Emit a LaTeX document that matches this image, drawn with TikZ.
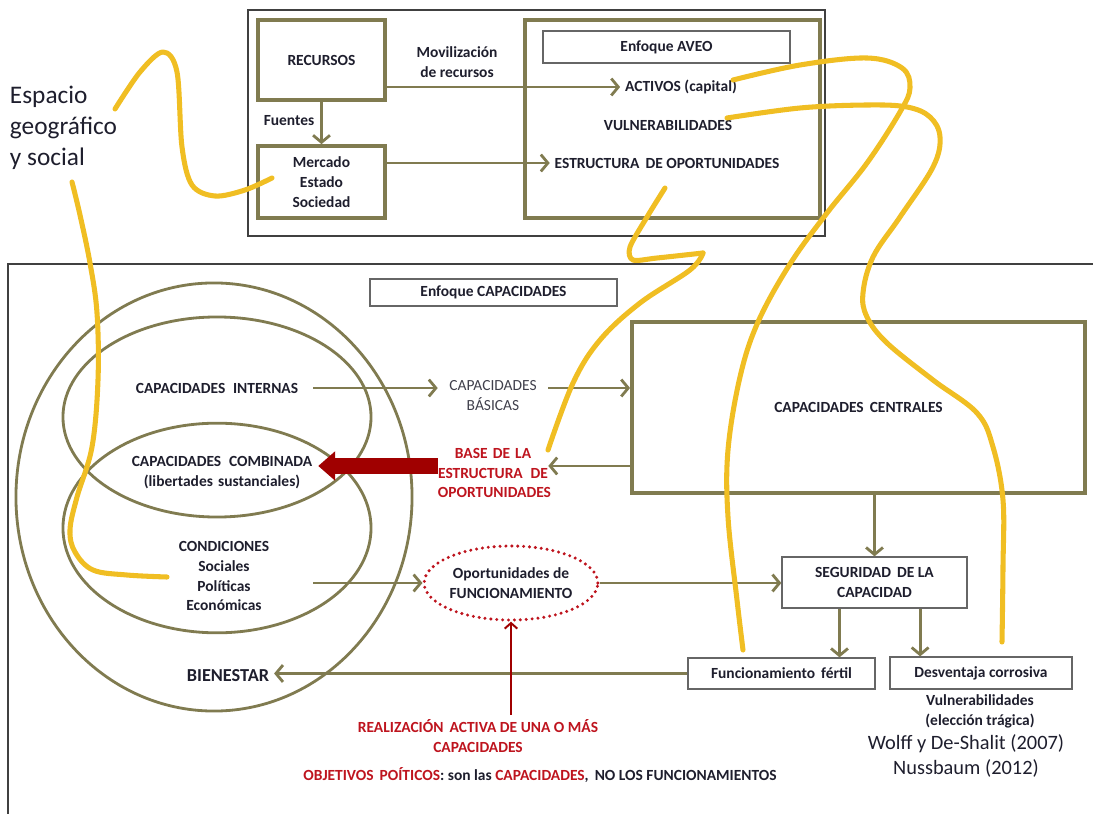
\documentclass[tikz,border=0pt]{standalone}
\usepackage{fontspec}
\setmainfont{Carlito}
\usetikzlibrary{arrows.meta,shapes.geometric}

\definecolor{olv}{RGB}{128,123,80}
\definecolor{yel}{RGB}{240,190,35}
\definecolor{redt}{RGB}{190,20,30}
\definecolor{darkred}{RGB}{160,0,0}
\definecolor{ink}{RGB}{30,30,45}

\begin{document}
\begin{tikzpicture}[x=0.025cm,y=-0.025cm,
  lbl/.style={font=\fontsize{11}{14.2}\selectfont\bfseries, align=center, text=ink},
  olvbox/.style={lbl, draw=olv, line width=2.6pt, inner sep=0pt},
  thinbox/.style={lbl, draw=black!60, line width=0.9pt, inner sep=0pt},
  olvline/.style={draw=olv, line width=2pt},
  arr/.style={draw=olv, line width=2pt, -{Straight Barb[length=5pt,width=12pt]}},
  redarr/.style={draw=darkred, line width=1.4pt, -{Straight Barb[length=4pt,width=9pt]}},
  bigred/.style={draw=darkred, line width=11pt, -{Triangle[length=12pt,width=21pt,line width=0pt]}},
  yel/.style={draw=yel, line width=3.6pt, line cap=round, line join=round}]

\useasboundingbox (0,0) rectangle (1093,814);

% frames
\draw[line width=0.9pt, draw=black!75] (248,10) rectangle (825,236);
\draw[line width=0.9pt, draw=black!75] (1093,264) -- (8,264) -- (8,814);

% enfoque AVEO
\node[olvbox, minimum width=3.175cm, minimum height=2cm] (rec) at (321.5,60) {RECURSOS};
\node[olvbox, minimum width=3.175cm, minimum height=1.8cm] (mer) at (321.5,182) {Mercado\\Estado\\Sociedad};
\node[olvbox, minimum width=7.375cm, minimum height=4.95cm] (aveo) at (672.5,119) {};
\node[thinbox, minimum width=6.175cm, minimum height=0.8cm] (tit1) at (666.5,47) {Enfoque AVEO};
\node[lbl] (act) at (681,87) {ACTIVOS (capital)};
\node[lbl] (vul) at (668,125) {VULNERABILIDADES};
\node[lbl] (est) at (667,163) {ESTRUCTURA\, DE OPORTUNIDADES};
\node[lbl] (fue) at (289,121) {Fuentes};
\node[lbl] (mov) at (457,62) {Movilización\\de recursos};

\draw[arr] (rec) -- (mer);
\draw[arr] (rec.east |- act.west) -- (act.west);
\draw[arr] (mer.east |- est.west) -- (est.west);

% enfoque CAPACIDADES
\node[thinbox, minimum width=6.175cm, minimum height=0.675cm] (tit2) at (493.5,292.5) {Enfoque CAPACIDADES};

\draw[olvline] (214,497) ellipse [x radius=4.95cm, y radius=5.35cm];
\draw[olvline] (217,417) ellipse [x radius=3.85cm, y radius=2.5cm];
\draw[olvline] (217,528) ellipse [x radius=3.85cm, y radius=2.62cm];

\node[lbl, text width=4.8cm, inner sep=0pt] (cint) at (217,388) {CAPACIDADES\, INTERNAS};
\node[lbl, text width=4.8cm, inner sep=0pt] (ccom) at (222,473) {CAPACIDADES\, COMBINADA\\(libertades sustanciales)};
\node[lbl, text width=4.45cm, inner sep=0pt] (cond) at (224,576) {CONDICIONES\\Sociales\\Políticas\\Económicas};
\node[lbl, font=\fontsize{13}{16}\selectfont\bfseries] (bien) at (228,676) {BIENESTAR};

\node[lbl, font=\fontsize{11}{14.2}\selectfont, text=ink!85, text width=2.75cm, inner sep=0pt] (basic) at (493,396) {CAPACIDADES\\BÁSICAS};
\node[lbl, text=redt, text width=2.75cm, inner sep=0pt] (base) at (493,473) {BASE DE LA\\ESTRUCTURA\, DE\\OPORTUNIDADES};
\node[olvbox, minimum width=11.325cm, minimum height=4.275cm] (cen) at (858.5,407.5) {CAPACIDADES\, CENTRALES};

\node[lbl, ellipse, draw=redt, line width=2.4pt, dash pattern=on 0pt off 4.2pt, line cap=round,
  minimum width=3.8cm, minimum height=1.85cm, inner sep=0pt] (opf) at (511,583) {Oportunidades de\\FUNCIONAMIENTO};
\node[thinbox, minimum width=4.625cm, minimum height=1.275cm] (seg) at (874.5,582.5) {SEGURIDAD\, DE LA\\CAPACIDAD};
\node[thinbox, minimum width=4.675cm, minimum height=0.775cm] (fer) at (781.5,673.5) {Funcionamiento\, fértil};
\node[thinbox, minimum width=4.55cm, minimum height=0.8cm] (des) at (981,673) {Desventaja corrosiva};

\node[lbl] (vln) at (980,711) {Vulnerabilidades\\(elección trágica)};
\node[font=\fontsize{14.5}{18}\selectfont, align=center, text=ink] (refs) at (966,756) {Wolff y De-Shalit (2007)\\Nussbaum (2012)};
\node[lbl, text=redt] (real) at (478,736) {REALIZACIÓN\, ACTIVA DE UNA O MÁS\\CAPACIDADES};
\node[lbl] (obj) at (540,775) {\textcolor{redt}{OBJETIVOS\, POÍTICOS}: son las \textcolor{redt}{CAPACIDADES},\, NO LOS FUNCIONAMIENTOS};
\node[font=\fontsize{18}{22}\selectfont, align=left, anchor=west, text=ink] (esp) at (5,128) {Espacio\\geográfico\\y social};

\draw[arr] (cint.east) -- (cint.east -| basic.west);
\draw[arr] (cint.east -| basic.east) -- (cint.east -| cen.west);
\draw[arr] ([yshift=5pt]cen.west |- base.east) -- ([yshift=5pt]base.east);
\draw[bigred] ([yshift=5pt]base.west) -- ([yshift=5pt]base.west -| ccom.east);
\draw[arr] (cond.east |- opf.west) -- (opf.west);
\draw[arr] (opf.east) -- (opf.east -| seg.west);
\draw[arr] (seg.north |- cen.south) -- (seg.north);
\draw[arr] ([xshift=-0.875cm]seg.south) -- ([xshift=-0.875cm]seg.south |- fer.north);
\draw[arr] ([xshift=1.14cm]seg.south) -- ([xshift=1.14cm]seg.south |- des.north);
\draw[arr] (fer.west) -- (fer.west -| bien.east);
\draw[redarr] (opf.south |- real.north) -- (opf.south);

% yellow strokes
\draw[yel] plot[smooth, tension=0.55] coordinates {(115,109) (140,72) (163,52) (177,72) (182,147) (192,185) (215,196) (245,190) (272,178)};
\draw[yel] plot[smooth, tension=0.6] coordinates {(72,182) (80,215) (90,263) (97,313) (98,380) (92,447) (77,497) (70,530) (75,552) (93,570) (127,575) (167,577)};
\draw[yel] plot[smooth, tension=0.6] coordinates {(733,80) (800,65) (867,58) (902,68) (910,88) (900,112) (867,163) (827,213) (790,264) (758,322) (740,377) (728,450) (728,517) (737,600) (743,650)};
\draw[yel] plot[smooth, tension=0.6] coordinates {(727,118) (800,108) (867,105) (907,107) (930,117) (940,137) (933,167) (900,217) (873,257) (863,293) (867,317) (887,343) (933,380) (977,413) (993,447) (1003,500) (1003,567) (1002,642)};
\draw[yel] plot[smooth, tension=0.5] coordinates {(665,188) (647,217) (630,247) (633,260) (657,258) (703,253)};
\draw[yel] plot[smooth, tension=0.6] coordinates {(703,253) (690,270) (640,303) (600,340) (573,383) (548,450)};

\end{tikzpicture}
\end{document}
